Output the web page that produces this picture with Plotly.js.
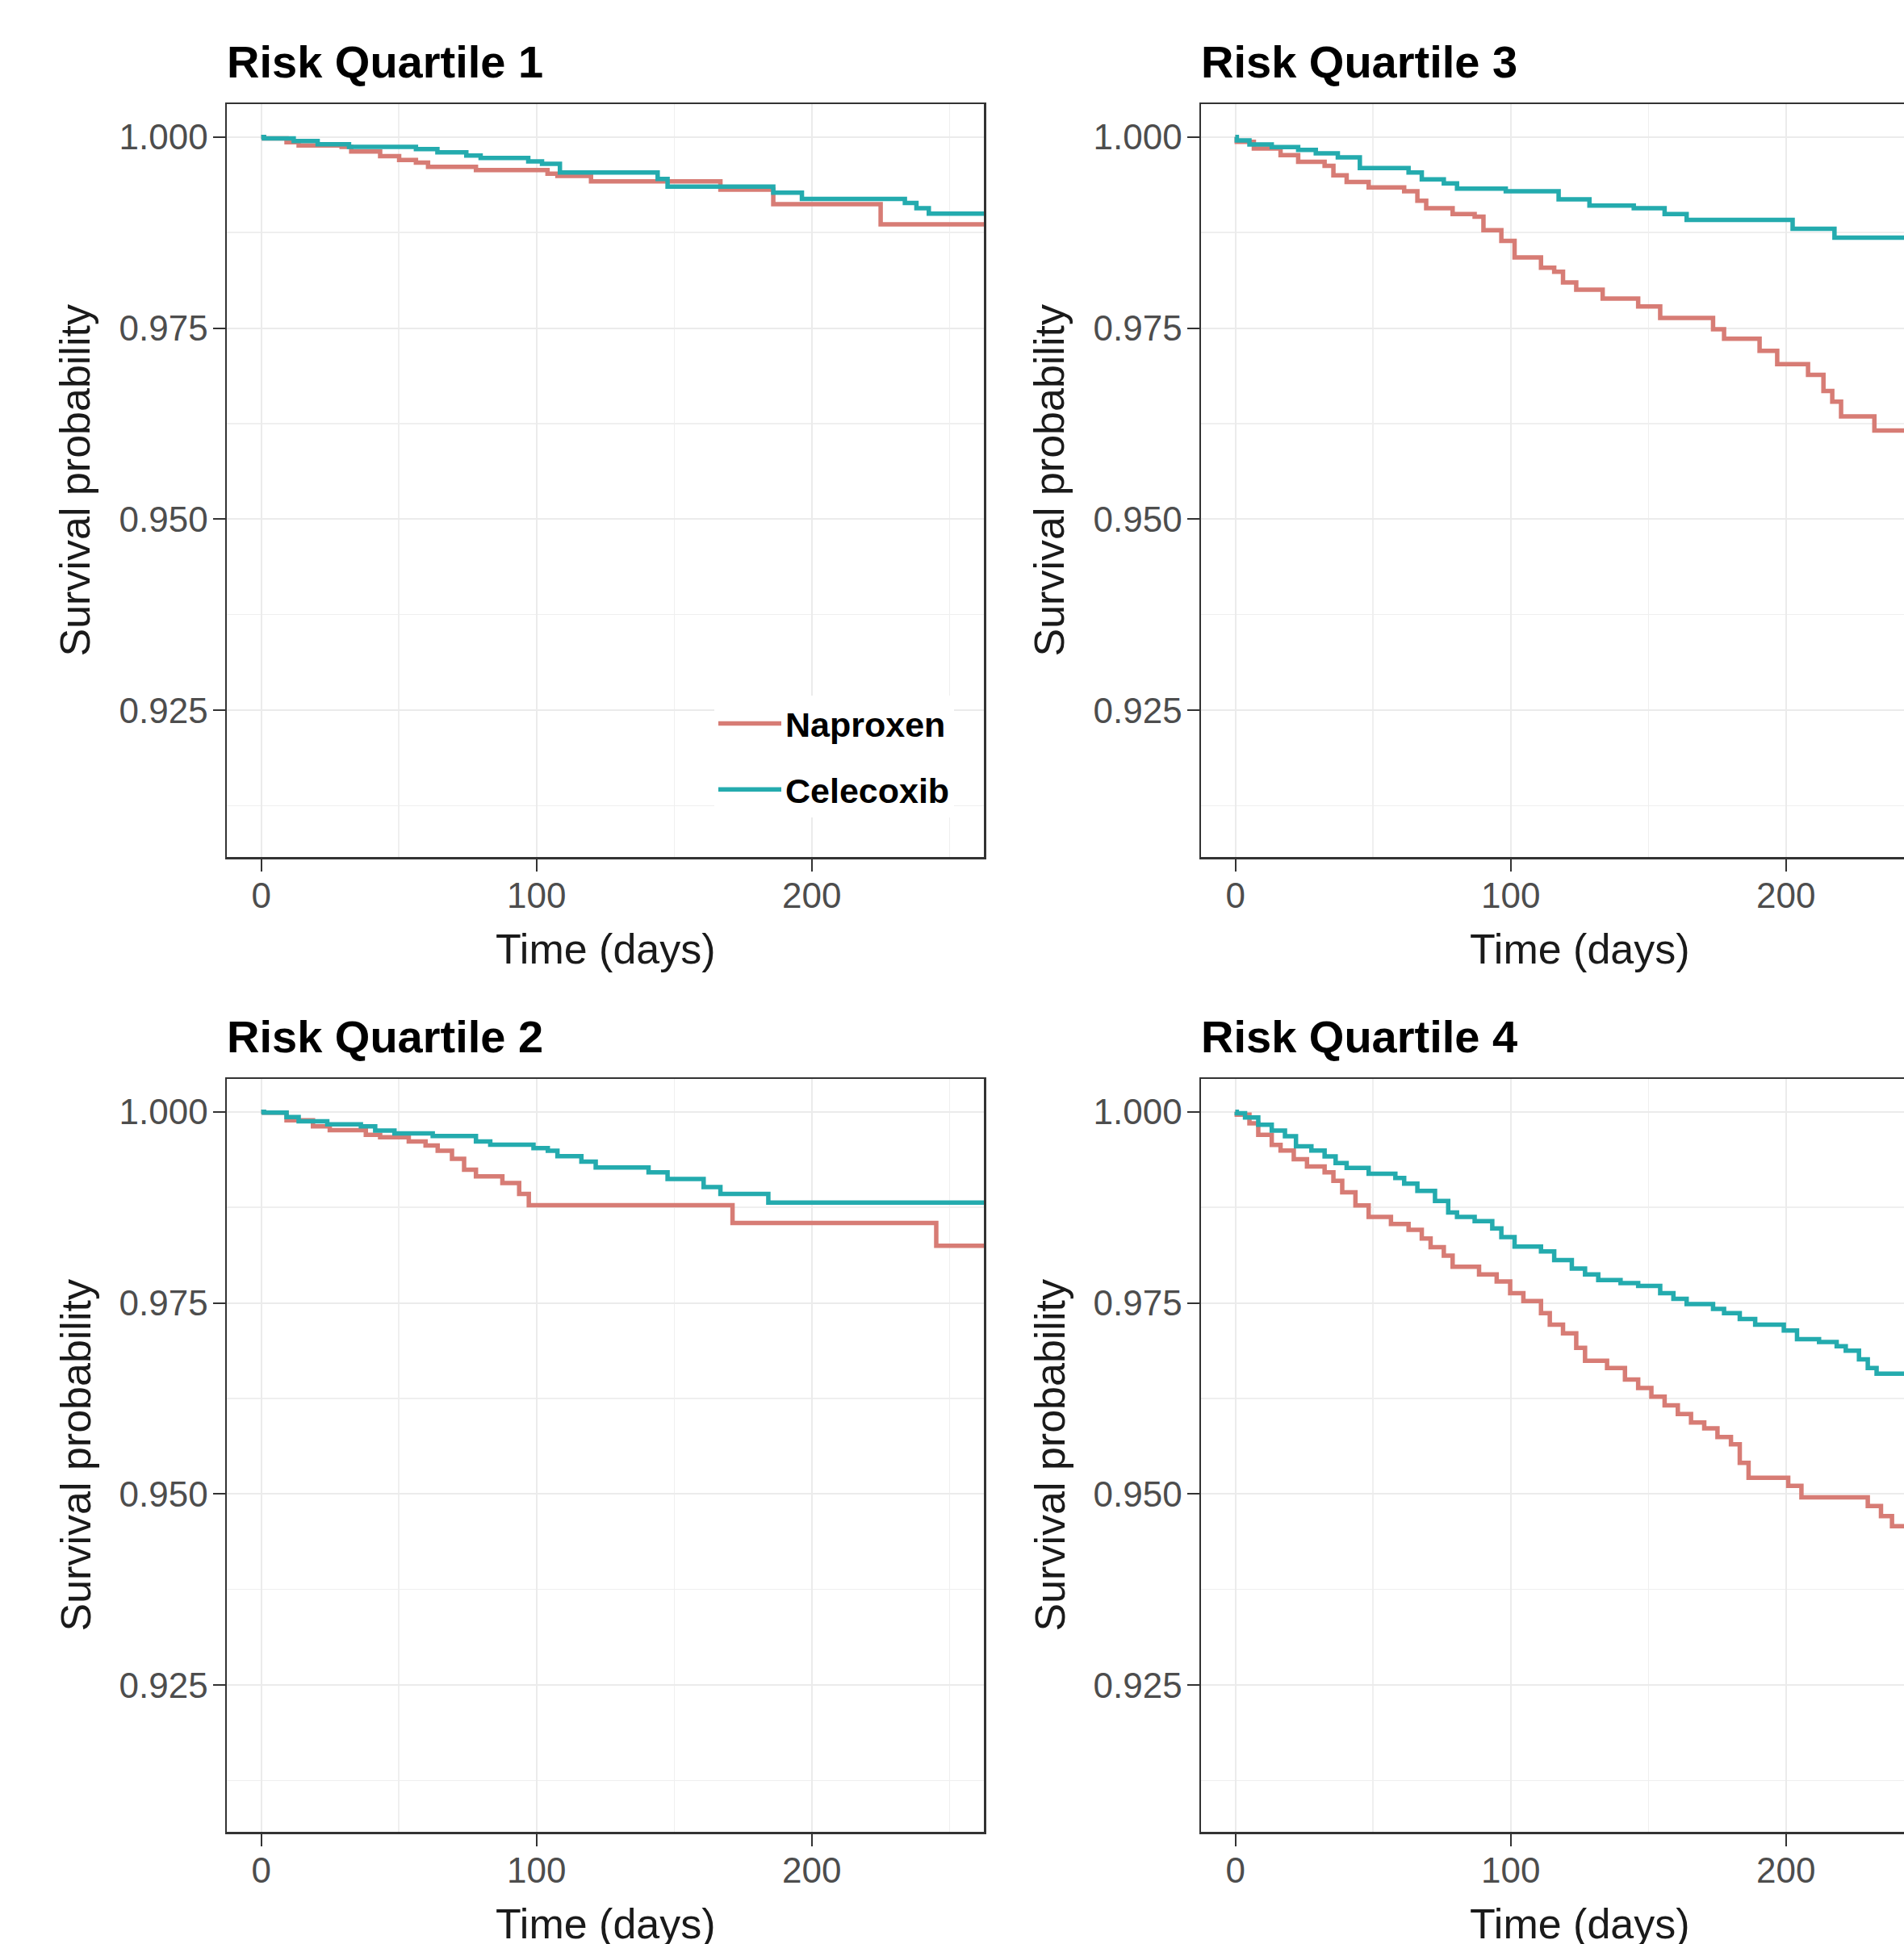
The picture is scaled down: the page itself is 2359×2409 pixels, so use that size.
<!DOCTYPE html>
<html>
<head>
<meta charset="utf-8">
<script src="https://cdn.plot.ly/plotly-3.0.1.min.js"></script>
<style>
  html, body { margin: 0; padding: 0; background: #ffffff; overflow: hidden; }
  #frame { width: 2359px; height: 2409px; overflow: hidden; position: relative; }
  #chart { width: 2460px; height: 2440px; position: absolute; left: 0; top: 0; }
</style>
</head>
<body>
<div id="frame"><div id="chart"></div></div>
<script>
// ---------------- DATA ----------------
const seriesNames = ["Naproxen", "Celecoxib"];
const panelTitles = ["Risk Quartile 1", "Risk Quartile 3", "Risk Quartile 2", "Risk Quartile 4"];
const xTitle = "Time (days)";
const yTitle = "Survival probability";

// Risk Quartile 1
const q1NapDays = [0, 1, 9.2, 13.6, 29.2, 32.7, 43.2, 50.1, 56.2, 60.6, 78, 104, 107.6, 119.8, 166.8, 186, 225, 270];
const q1NapSurv = [1.000, 0.9998, 0.9993, 0.9989, 0.9987, 0.9981, 0.9975, 0.9970, 0.99665, 0.9961, 0.99567, 0.9952, 0.9949, 0.9942, 0.9931, 0.9912, 0.98856, 0.98856];
const q1CelDays = [0, 1, 11.8, 20.5, 31.9, 56.2, 64, 74.5, 79.7, 97, 102, 108.5, 144, 147.6, 186, 196.4, 233.8, 238, 242.5, 270];
const q1CelSurv = [1.000, 0.9998, 0.99947, 0.99905, 0.9987, 0.99842, 0.99799, 0.99757, 0.99725, 0.9968, 0.99648, 0.99535, 0.9945, 0.9935, 0.99271, 0.9919, 0.99137, 0.99067, 0.98997, 0.98997];

// Risk Quartile 3
const q3NapDays = [0, 0.5, 6.7, 16.4, 22.8, 32.4, 35.6, 40.4, 48.4, 61.3, 66.1, 69.3, 78.9, 86.9, 90.1, 96.6, 101.4, 111, 115.8, 119, 123.8, 133.4, 146.3, 154.3, 173.5, 177.5, 190.4, 196.8, 208, 213.6, 216.8, 220, 232.1, 270];
const q3NapSurv = [1.000, 0.99937, 0.99849, 0.99762, 0.99674, 0.99622, 0.99499, 0.99411, 0.99341, 0.99289, 0.99166, 0.99068, 0.98991, 0.98956, 0.9878, 0.9864, 0.98423, 0.9829, 0.98237, 0.98097, 0.98002, 0.97887, 0.97782, 0.97631, 0.97484, 0.97361, 0.97203, 0.97028, 0.96888, 0.96678, 0.96538, 0.96345, 0.9616, 0.9616];
const q3CelDays = [0, 0.5, 5.1, 13.2, 22.8, 29.2, 37.2, 45.2, 62.9, 67.7, 75.7, 80.5, 98.2, 117.4, 128.6, 144.7, 155.9, 163.9, 202.4, 217.6, 270];
const q3CelSurv = [1.000, 0.99954, 0.99902, 0.99867, 0.99832, 0.99786, 0.99734, 0.99593, 0.99534, 0.99446, 0.99394, 0.99324, 0.99289, 0.99183, 0.99103, 0.99068, 0.98991, 0.98914, 0.98798, 0.98682, 0.98682];

// Risk Quartile 2
const q2NapDays = [0, 1, 9.2, 18.8, 24.9, 38, 43.2, 53.6, 59.7, 64.1, 69.3, 73.7, 78, 87.6, 93.7, 97.2, 171.2, 245.2, 270];
const q2NapSurv = [1.000, 0.9999, 0.9989, 0.9981, 0.9976, 0.9970, 0.99666, 0.99613, 0.9956, 0.9949, 0.99384, 0.99243, 0.99155, 0.99067, 0.98926, 0.98778, 0.98546, 0.98247, 0.98247];
const q2CelDays = [0, 1, 9.2, 13.6, 24, 36.2, 41.4, 48.4, 62.3, 78, 83.2, 98.9, 104.1, 107.6, 116.3, 121.5, 140.7, 147.6, 160.7, 166.8, 184.2, 270];
const q2CelSurv = [1.000, 0.9999, 0.9993, 0.99877, 0.99835, 0.9981, 0.99754, 0.99718, 0.99683, 0.99613, 0.9957, 0.99525, 0.9949, 0.99419, 0.99349, 0.99271, 0.99208, 0.9912, 0.99014, 0.98926, 0.98813, 0.98813];

// Risk Quartile 4
const q4NapDays = [0, 0.5, 5.1, 8.3, 13.2, 16.4, 21.2, 26, 32.4, 35.6, 38.8, 43.6, 48.4, 56.5, 62.9, 67.7, 70.9, 75.7, 78.9, 88.5, 94.9, 99.8, 104.6, 111, 114.2, 119, 123.8, 127, 135, 141.5, 146.3, 151.1, 155.9, 160.7, 165.5, 170.3, 175.1, 180, 183.2, 186.4, 200.8, 205.6, 229.7, 234.5, 238.5, 270];
const q4NapSurv = [1.000, 0.99962, 0.99849, 0.99699, 0.99567, 0.99492, 0.99379, 0.99285, 0.99209, 0.99096, 0.98946, 0.98776, 0.98626, 0.98532, 0.98456, 0.98343, 0.9823, 0.98118, 0.97974, 0.97873, 0.97779, 0.97628, 0.97523, 0.97365, 0.97214, 0.97101, 0.96913, 0.96743, 0.96649, 0.96498, 0.96386, 0.96273, 0.9616, 0.96047, 0.95934, 0.95859, 0.95746, 0.95651, 0.95407, 0.95211, 0.95106, 0.94955, 0.94842, 0.9471, 0.94578, 0.94578];
const q4CelDays = [0, 0.5, 3.5, 8.3, 13.2, 18, 22, 27.6, 32.4, 36.4, 40.4, 48.4, 58.1, 61.3, 66.1, 72.5, 77.3, 80.5, 86.9, 93.3, 96.6, 101.4, 111, 115.8, 122.2, 127, 131.8, 139.9, 146.3, 154.3, 159.1, 163.9, 173.5, 177.5, 183.2, 188.8, 199.2, 204, 212, 218.4, 221.7, 226.5, 229.7, 232.9, 270];
const q4CelSurv = [1.000, 0.99981, 0.99925, 0.9983, 0.99755, 0.9968, 0.99548, 0.99492, 0.99416, 0.9933, 0.99266, 0.9919, 0.99134, 0.99059, 0.98965, 0.98833, 0.98682, 0.98626, 0.98569, 0.98475, 0.98362, 0.98238, 0.98174, 0.98061, 0.97948, 0.97873, 0.97798, 0.9776, 0.97722, 0.97628, 0.97553, 0.97485, 0.97421, 0.97365, 0.97289, 0.97214, 0.97139, 0.97026, 0.96988, 0.96932, 0.96875, 0.96762, 0.96649, 0.96574, 0.96574];

const xTickVals = [0, 100, 200];
const yTickVals = [0.925, 0.950, 0.975, 1.000];

// ---------------- STYLE / LAYOUT ----------------
const W = 2460, H = 2440;
const colors = { Naproxen: "#D77C75", Celecoxib: "#24ABAE" };
const FONT = "Liberation Sans, Arial, sans-serif";

// panel pixel boxes: [left, right, top, bottom]
const boxes = [
  [281, 1219, 129, 1062],   // Q1 (row1 col1)
  [1488, 2426, 129, 1062],  // Q3 (row1 col2)
  [281, 1219, 1337, 2270],  // Q2 (row2 col1)
  [1488, 2426, 1337, 2270]  // Q4 (row2 col2)
];

const panels = [
  { nap: [q1NapDays, q1NapSurv], cel: [q1CelDays, q1CelSurv] },
  { nap: [q3NapDays, q3NapSurv], cel: [q3CelDays, q3CelSurv] },
  { nap: [q2NapDays, q2NapSurv], cel: [q2CelDays, q2CelSurv] },
  { nap: [q4NapDays, q4NapSurv], cel: [q4CelDays, q4CelSurv] }
];

const traces = [];
const layout = {
  width: W, height: H,
  margin: { l: 0, r: 0, t: 0, b: 0, pad: 0 },
  paper_bgcolor: "#ffffff",
  plot_bgcolor: "#ffffff",
  font: { family: FONT, color: "#000000" },
  showlegend: true,
  legend: {
    x: 885 / W, xanchor: "left",
    y: 1 - 862 / H, yanchor: "top",
    bgcolor: "#ffffff",
    borderwidth: 0,
    font: { family: FONT, size: 43, color: "#000000", weight: "bold" },
    itemwidth: 78,
    tracegroupgap: 23,
    traceorder: "grouped"
  },
  annotations: []
};

panels.forEach((p, i) => {
  const n = i + 1;
  const xa = n === 1 ? "x" : "x" + n;
  const ya = n === 1 ? "y" : "y" + n;
  const b = boxes[i];
  [["Naproxen", p.nap], ["Celecoxib", p.cel]].forEach(([name, d]) => {
    traces.push({
      type: "scatter", mode: "lines",
      x: d[0], y: d[1],
      xaxis: xa, yaxis: ya,
      name: name,
      legendgroup: name,
      showlegend: i === 0,
      line: { color: colors[name], width: 5.5, shape: "hv" },
      hoverinfo: "skip"
    });
  });
  const common = {
    showline: true, mirror: true, linecolor: "#333333", linewidth: 2.5,
    ticks: "outside", ticklen: 15, tickwidth: 2, tickcolor: "#333333",
    showgrid: true, gridcolor: "#EBEBEB", gridwidth: 2,
    zeroline: false, fixedrange: true,
    tickfont: { family: FONT, size: 44, color: "#4D4D4D" }
  };
  layout[(n === 1 ? "xaxis" : "xaxis" + n)] = Object.assign({}, common, {
    domain: [b[0] / W, b[1] / W],
    anchor: ya,
    range: [-12.5, 262.5],
    tickmode: "array", tickvals: xTickVals,
    ticktext: xTickVals.map(v => String(v)),
    ticklabelstandoff: -7,
    minor: { tickmode: "linear", tick0: 0, dtick: 50, showgrid: true, gridcolor: "#EFEFEF", gridwidth: 1.5, ticks: "" }
  });
  layout[(n === 1 ? "yaxis" : "yaxis" + n)] = Object.assign({}, common, {
    domain: [1 - b[3] / H, 1 - b[2] / H],
    anchor: xa,
    range: [0.9058, 1.0043],
    tickmode: "array", tickvals: yTickVals,
    ticktext: yTickVals.map(v => v.toFixed(3)),
    ticklabelstandoff: -3,
    minor: { tickmode: "linear", tick0: 0.9125, dtick: 0.025, showgrid: true, gridcolor: "#EFEFEF", gridwidth: 1.5, ticks: "" }
  });
  // panel title
  layout.annotations.push({
    text: "<b>" + panelTitles[i] + "</b>",
    xref: xa + " domain", yref: ya + " domain",
    x: 0, y: 1, xanchor: "left", yanchor: "bottom",
    xshift: -2, yshift: 19, showarrow: false,
    font: { family: FONT, size: 56, color: "#000000" }
  });
  // x axis title
  layout.annotations.push({
    text: xTitle,
    xref: xa + " domain", yref: ya + " domain",
    x: 0.5, y: 0, xanchor: "center", yanchor: "middle",
    yshift: -114, showarrow: false,
    font: { family: FONT, size: 52, color: "#1A1A1A" }
  });
  // y axis title
  layout.annotations.push({
    text: yTitle,
    xref: xa + " domain", yref: ya + " domain",
    x: 0, y: 0.5, xanchor: "center", yanchor: "middle",
    xshift: -188, textangle: -90, showarrow: false,
    font: { family: FONT, size: 52, color: "#1A1A1A" }
  });
});

Plotly.newPlot("chart", traces, layout, { displayModeBar: false, staticPlot: true });
</script>
</body>
</html>
